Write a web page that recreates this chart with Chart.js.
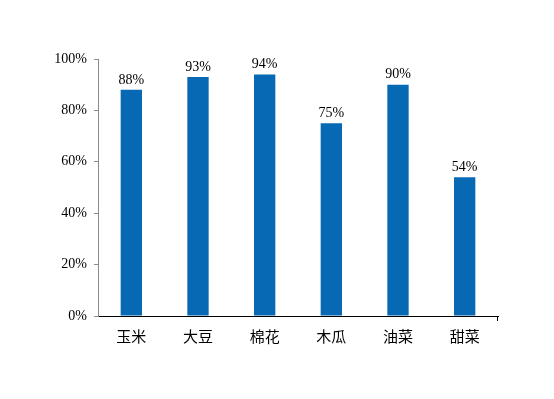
<!DOCTYPE html>
<html>
<head>
<meta charset="utf-8">
<script src="https://cdn.jsdelivr.net/npm/chart.js@4/dist/chart.umd.min.js"></script>
<style>
  body { margin: 0; background: #fff; }
  canvas { display: block; }
</style>
</head>
<body>
<canvas id="cropChart" width="554" height="399"></canvas>
<script>
const crops = ['玉米', '大豆', '棉花', '木瓜', '油菜', '甜菜'];
const shares = [88, 93, 94, 75, 90, 54];
const yTicks = [0, 20, 40, 60, 80, 100];

// percent labels above each bar
const barLabels = {
  id: 'barLabels',
  afterDatasetsDraw(chart) {
    const ctx = chart.ctx;
    const meta = chart.getDatasetMeta(0);
    ctx.save();
    ctx.font = '14px "Liberation Serif", "Times New Roman", serif';
    ctx.fillStyle = '#000';
    ctx.textAlign = 'center';
    ctx.textBaseline = 'bottom';
    meta.data.forEach((bar, i) => {
      ctx.fillText(shares[i] + '%', bar.x, bar.y - 3);
    });
    ctx.restore();
  }
};

new Chart(document.getElementById('cropChart').getContext('2d'), {
  type: 'bar',
  data: {
    labels: crops,
    datasets: [{
      data: shares,
      backgroundColor: '#0769b4',
      borderWidth: 0,
      barPercentage: 0.32,
      categoryPercentage: 1
    }]
  },
  options: {
    responsive: false,
    animation: false,
    layout: { padding: { left: 0, right: 56, top: 59, bottom: 0 } },
    plugins: { legend: { display: false }, tooltip: { enabled: false } },
    scales: {
      x: {
        afterFit: s => { s.height = 83; },
        border: { color: '#000', width: 1 },
        grid: {
          drawOnChartArea: false,
          tickLength: 5,
          tickColor: c => c.type === 'tick' ? 'rgba(0,0,0,0)' : '#000'
        },
        ticks: {
          padding: 6,
          color: '#000',
          font: { family: '"Noto Sans CJK SC", sans-serif', size: 15 }
        }
      },
      y: {
        min: 0,
        max: 100,
        afterFit: s => { s.width = 98; },
        afterBuildTicks: s => { s.ticks = yTicks.map(v => ({ value: v })); },
        border: { color: '#8a8a8a', width: 1 },
        grid: { drawOnChartArea: false, tickLength: 4, tickColor: '#8a8a8a' },
        ticks: {
          padding: 7,
          color: '#000',
          font: { family: '"Liberation Serif", "Times New Roman", serif', size: 14 },
          callback: v => v + '%'
        }
      }
    }
  },
  plugins: [barLabels]
});
</script>
</body>
</html>
